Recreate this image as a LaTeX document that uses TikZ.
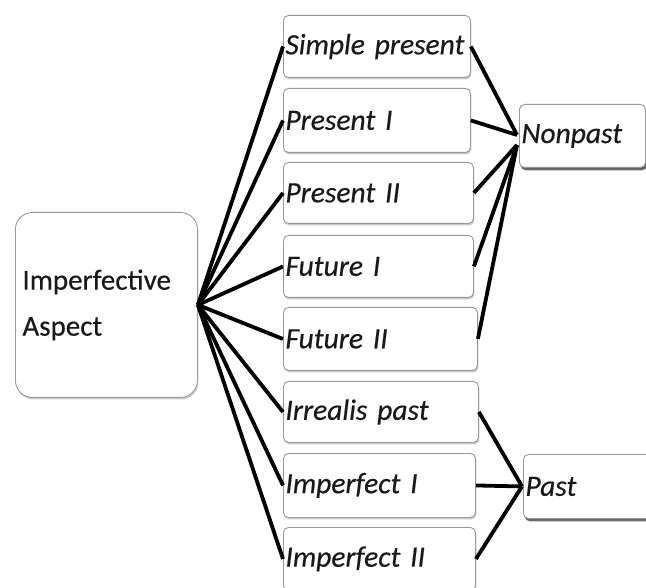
\documentclass[tikz,border=0pt]{standalone}
\usepackage{fontspec}
\setmainfont{Carlito}[WordSpace=0.6, FakeBold=0.4]
\usetikzlibrary{shadows}
\tikzset{
  conn/.style={line width=3.8pt, black},
  bx/.style={draw=black!40, line width=0.9pt, fill=white, rounded corners=5pt,
    inner xsep=2pt, inner ysep=0pt, align=left, anchor=north west, text=black!90,
    font=\fontsize{29.5pt}{46pt}\selectfont\itshape,
    drop shadow={shadow xshift=0.8pt, shadow yshift=-2pt, fill=black!35, opacity=0.6}},
  tgt/.style={bx, drop shadow={shadow xshift=1.5pt, shadow yshift=-3pt, fill=black!70, opacity=0.8}},
  big/.style={bx, rounded corners=17pt, font=\fontsize{29pt}{46pt}\selectfont\upshape, inner xsep=7pt}
}
\begin{document}
\begin{tikzpicture}[x=1pt,y=-1pt]
\useasboundingbox[fill=white] (0,0) rectangle (646,588);
\node[big, text width=168pt, minimum height=185pt] (imp) at (15,212) {Imperfective\\Aspect};
\node[bx, text width=183pt, minimum height=62pt] (sp) at (283,15) {Simple present};
\node[bx, text width=183pt, minimum height=64pt] (p1) at (283,88) {Present I};
\node[bx, text width=186pt, minimum height=61pt] (p2) at (283,162) {Present II};
\node[bx, text width=186pt, minimum height=62pt] (f1) at (283,235) {Future I};
\node[bx, text width=190pt, minimum height=63pt] (f2) at (283,307) {Future II};
\node[bx, text width=191pt, minimum height=61pt] (ir) at (283,381) {Irrealis past};
\node[bx, text width=188pt, minimum height=64pt] (i1) at (283,453) {Imperfect I};
\node[bx, text width=188pt, minimum height=63pt] (i2) at (283,527) {Imperfect II};
\node[tgt, text width=122pt, minimum height=63pt] (np) at (519,104) {Nonpast};
\node[tgt, text width=140pt, minimum height=64pt] (pa) at (523,454) {Past};
\coordinate (npa) at ([yshift=1pt,xshift=-2pt]np.west);
\coordinate (npb) at ([yshift=-9pt,xshift=-2pt]np.west);
\coordinate (paa) at ([xshift=-1pt]pa.west);
\foreach \n in {sp,p1,p2,f1,f2,ir,i1,i2}{\draw[conn] (imp.east) -- (\n.west);}
\draw[conn] (sp.east) -- (npa);
\draw[conn] (p1.east) -- (npa);
\draw[conn] (p2.east) -- (npb);
\draw[conn] (f1.east) -- (npb);
\draw[conn] (f2.east) -- (npb);
\draw[conn] (ir.east) -- (paa);
\draw[conn] (i1.east) -- (paa);
\draw[conn] (i2.east) -- (paa);
\end{tikzpicture}
\end{document}
